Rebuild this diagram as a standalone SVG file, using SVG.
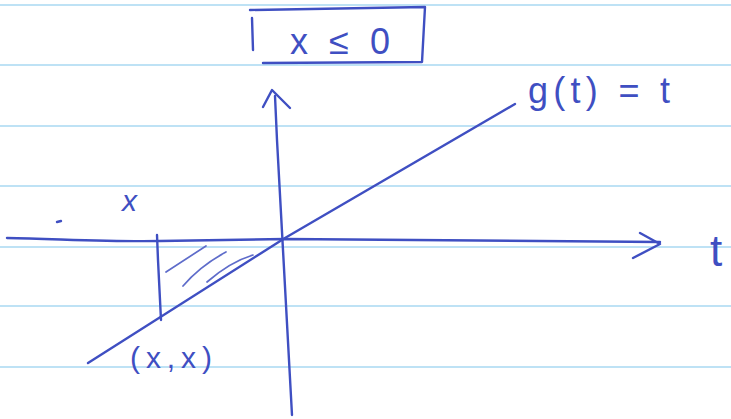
<svg xmlns="http://www.w3.org/2000/svg" width="731" height="419" viewBox="0 0 731 419">
<style>
.rule{stroke:#a9d9f2;stroke-width:1.6;fill:none}
.ink{stroke:#3f4fc2;stroke-width:2.4;fill:none;stroke-linecap:round;stroke-linejoin:round}
.hatch{stroke:#5e6cca;stroke-width:1.7;fill:none;stroke-linecap:round}
.lbl{font-family:"Liberation Sans",Arial,sans-serif;fill:#3f4fc2}
</style>
<rect width="731" height="419" fill="#ffffff"/>
<g id="paper">
<line class="rule" x1="0" y1="5" x2="731" y2="5"/>
<line class="rule" x1="0" y1="65" x2="731" y2="65"/>
<line class="rule" x1="0" y1="126" x2="731" y2="126"/>
<line class="rule" x1="0" y1="186" x2="731" y2="186"/>
<line class="rule" x1="0" y1="247" x2="731" y2="247"/>
<line class="rule" x1="0" y1="306" x2="731" y2="306"/>
<line class="rule" x1="0" y1="367" x2="731" y2="367"/>
</g>
<g id="condition-box">
<path class="ink" d="M250,10 L425,7 L422,62 L263,63"/>
<path class="ink" d="M252,18 L253,50"/>
<text class="lbl" x="290" y="54" font-size="36" textLength="100" lengthAdjust="spacing">x ≤ 0</text>
</g>
<g id="connectors">
<path id="t-axis" class="ink" d="M7,238 C60,239 110,242 160,241 L285,239 L660,242"/>
<path class="ink" d="M640,233 L660,244 L633,258"/>
<path id="g-axis" class="ink" d="M292,415 L277,140 L275,96"/>
<path class="ink" d="M263,107 L272,90 L290,108"/>
<path id="line-g" class="ink" d="M88,363 L285,238 L515,104"/>
<path id="x-segment" class="ink" d="M157,235 L158,260 L161,320"/>
<g id="shading">
<path class="hatch" d="M166,272 L206,246"/>
<path class="hatch" d="M183,286 Q200,266 226,252"/>
<path class="hatch" d="M207,282 Q230,262 253,255"/>
</g>
<path class="ink" d="M57,222 L61,221" stroke-width="2"/>
</g>
<g id="label-g">
<text class="lbl" x="528" y="103" font-size="36" textLength="142" lengthAdjust="spacing">g(t) = t</text>
</g>
<g id="label-t">
<text class="lbl" x="710" y="266" font-size="44">t</text>
</g>
<g id="label-x">
<text class="lbl" x="122" y="211" font-size="30" font-style="italic">x</text>
</g>
<g id="label-point">
<text class="lbl" x="130" y="368" font-size="30" textLength="82" lengthAdjust="spacing">(x,x)</text>
</g>
</svg>
